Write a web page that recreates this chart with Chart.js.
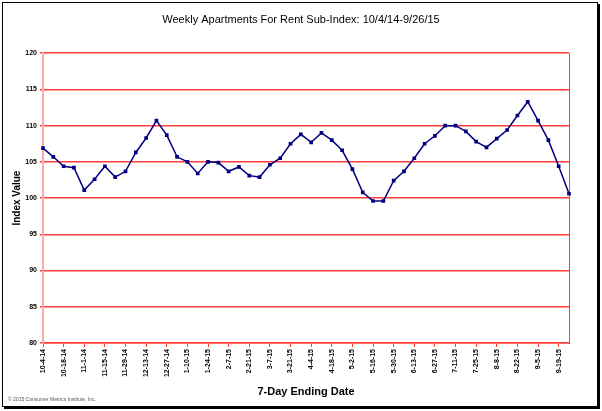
<!DOCTYPE html>
<html>
<head>
<meta charset="utf-8">
<script src="https://cdn.jsdelivr.net/npm/chart.js@4/dist/chart.umd.min.js"></script>
<style>
  body { margin: 0; background: #fff; }
  #wrap { width: 602px; height: 411px; position: relative; }
</style>
</head>
<body>
<div id="wrap"><canvas id="myChart" width="602" height="411"></canvas></div>
<script>
// weekly ending dates, 10-4-14 .. 9-26-15
var weeks = ["10-4-14", "10-11-14", "10-18-14", "10-25-14", "11-1-14", "11-8-14", "11-15-14", "11-22-14",
  "11-29-14", "12-6-14", "12-13-14", "12-20-14", "12-27-14", "1-3-15", "1-10-15", "1-17-15", "1-24-15",
  "1-31-15", "2-7-15", "2-14-15", "2-21-15", "2-28-15", "3-7-15", "3-14-15", "3-21-15", "3-28-15",
  "4-4-15", "4-11-15", "4-18-15", "4-25-15", "5-2-15", "5-9-15", "5-16-15", "5-23-15", "5-30-15",
  "6-6-15", "6-13-15", "6-20-15", "6-27-15", "7-4-15", "7-11-15", "7-18-15", "7-25-15", "8-1-15",
  "8-8-15", "8-15-15", "8-22-15", "8-29-15", "9-5-15", "9-12-15", "9-19-15", "9-26-15"];

// index values
var indexValues = [106.9, 105.7, 104.4, 104.2, 101.1, 102.6, 104.4, 102.9, 103.7, 106.3,
  108.3, 110.7, 108.7, 105.7, 105.0, 103.4, 105.0, 104.9, 103.7, 104.3,
  103.1, 102.9, 104.6, 105.5, 107.5, 108.8, 107.7, 109.0, 108.0, 106.6,
  104.0, 100.8, 99.6, 99.6, 102.4, 103.7, 105.5, 107.5, 108.6, 110.0,
  110.0, 109.2, 107.8, 107.0, 108.2, 109.4, 111.4, 113.3, 110.7, 108.0,
  104.4, 100.6];

var yMin = 80;
var yMax = 120;
var yStep = 5;

var red = "rgb(255,60,60)";
var navy = "#000080";
var font = "'Liberation Sans', Arial, sans-serif";

// outer frame and the little copyright line
var extras = {
  id: "extras",
  afterDraw: function(chart) {
    var c = chart.ctx;
    c.save();
    c.strokeStyle = "#000";
    c.lineWidth = 1;
    c.strokeRect(2.5, 2.5, 595, 404);
    c.fillStyle = "#000";
    c.fillRect(598, 4, 2, 405);
    c.fillRect(4, 407, 596, 2);

    c.fillStyle = "#555";
    c.font = "5px " + font;
    c.textBaseline = "middle";
    c.fillText("\u00a9 2015 Consumer Metrics Institute, Inc.", 8, 400);
    c.restore();
  }
};

var ctx = document.getElementById("myChart").getContext("2d");
var myChart = new Chart(ctx, {
  type: "line",
  data: {
    labels: weeks,
    datasets: [{
      data: indexValues,
      borderColor: navy,
      backgroundColor: navy,
      borderWidth: 1.5,
      pointStyle: "rect",
      pointRadius: 2.6,
      pointBorderWidth: 0,
      tension: 0
    }]
  },
  options: {
    responsive: false,
    animation: false,
    layout: { padding: { top: 0, right: 0, bottom: 12, left: 0 } },
    plugins: {
      legend: { display: false },
      tooltip: { enabled: false },
      title: {
        display: true,
        text: "Weekly Apartments For Rent Sub-Index: 10/4/14-9/26/15",
        color: "#000",
        font: { family: font, size: 11, weight: "normal" },
        padding: { top: 13, bottom: 27 }
      }
    },
    scales: {
      x: {
        offset: false,
        grid: {
          drawOnChartArea: false,
          drawTicks: true,
          tickLength: 4,
          color: function(c) { return c.index % 2 === 0 ? red : "rgba(0,0,0,0)"; }
        },
        border: { color: red, width: 1.5 },
        ticks: {
          autoSkip: false,
          minRotation: 90,
          maxRotation: 90,
          padding: 2,
          color: "#000",
          font: { family: font, size: 7, weight: "bold" },
          callback: function(v, i) { return i % 2 === 0 ? weeks[i] : ""; }
        },
        title: {
          display: true,
          text: "7-Day Ending Date",
          color: "#000",
          font: { family: font, size: 11, weight: "bold" },
          padding: { top: 3, bottom: 0 }
        },
        afterFit: function(scale) { scale.height = 56; }
      },
      y: {
        min: yMin,
        max: yMax,
        grid: {
          color: red,
          lineWidth: 1.5,
          drawTicks: true,
          tickLength: 3
        },
        border: { color: "#ffaaaa", width: 2 },
        ticks: {
          stepSize: yStep,
          padding: 3,
          color: "#000",
          font: { family: font, size: 7, weight: "bold" }
        },
        title: {
          display: true,
          text: "Index Value",
          color: "#000",
          font: { family: font, size: 10, weight: "bold" },
          padding: { top: 11, bottom: 0 }
        },
        afterFit: function(scale) { scale.width = 43; }
      },
      // empty right axis: gives the right margin and the red right edge
      yRight: {
        position: "right",
        min: yMin,
        max: yMax,
        grid: { drawOnChartArea: false, drawTicks: false },
        border: { color: red, width: 1 },
        ticks: { display: false },
        afterFit: function(scale) { scale.width = 33; }
      }
    }
  },
  plugins: [extras]
});
</script>
</body>
</html>
